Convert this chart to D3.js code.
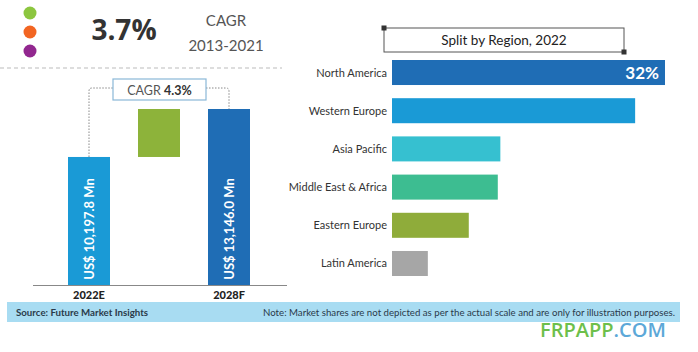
<!DOCTYPE html>
<html><head><meta charset="utf-8">
<script src="https://cdn.jsdelivr.net/npm/d3@7"></script>
<style>body{margin:0;background:#fff;}svg{display:block;}</style>
</head><body>
<svg id="c" width="698" height="352"></svg>
<script>
// ---- data ----
const years = ["2022E", "2028F"];
const marketValues = [10197.8, 13146.0];
const valueLabels = ["US$ 10,197.8 Mn", "US$ 13,146.0 Mn"];
const cagrForecast = "4.3%";
const cagrHistoric = "3.7%";
const cagrHistoricPeriod = "2013-2021";
const regions = ["North America", "Western Europe", "Asia Pacific", "Middle East & Africa", "Eastern Europe", "Latin America"];
const regionShares = [32, 28.5, 12.7, 12.4, 9, 4.2];
const regionColors = ["#1f6db5", "#1a9ad6", "#36c0d0", "#3dbd91", "#8fac3a", "#a6a6a6"];
const dotColors = ["#8cc63f", "#f26522", "#92278f"];

const svg = d3.select("#c");
const F = "Lato, 'Open Sans', sans-serif";

// ---- header ----
svg.selectAll("circle.dot").data(dotColors).join("circle")
  .attr("cx", 30).attr("cy", (d, i) => 13 + i * 19).attr("r", 6.5).attr("fill", d => d);
svg.append("text").attr("x", 124).attr("y", 40).attr("text-anchor", "middle")
  .attr("font-family", "'Open Sans', sans-serif").attr("font-weight", 700).attr("font-size", 28)
  .attr("fill", "#333").text(cagrHistoric);
svg.append("text").attr("x", 226).attr("y", 26).attr("text-anchor", "middle")
  .attr("font-family", F).attr("font-size", 15).attr("fill", "#555").text("CAGR");
svg.append("text").attr("x", 226).attr("y", 51).attr("text-anchor", "middle")
  .attr("font-family", F).attr("font-size", 15).attr("fill", "#555").text(cagrHistoricPeriod);
svg.append("line").attr("x1", 0).attr("x2", 282).attr("y1", 68).attr("y2", 68)
  .attr("stroke", "#bbb").attr("stroke-width", 1).attr("stroke-dasharray", "4,3");

// ---- left waterfall ----
const x = d3.scaleBand().domain(["2022E", "inc", "2028F"]).range([68, 250]).paddingInner(0.4).paddingOuter(0);
const y = d3.scaleLinear().domain([2330, 13146]).range([285, 109]);
const barColors = ["#1a9ad6", "#1f6db5"];

svg.selectAll("rect.mb").data(years).join("rect")
  .attr("x", d => x(d)).attr("width", x.bandwidth())
  .attr("y", (d, i) => y(marketValues[i])).attr("height", (d, i) => y.range()[0] - y(marketValues[i]))
  .attr("fill", (d, i) => barColors[i]);
svg.append("rect").attr("x", x("inc")).attr("width", x.bandwidth())
  .attr("y", y(marketValues[1])).attr("height", y(marketValues[0]) - y(marketValues[1]))
  .attr("fill", "#8db33a");

svg.selectAll("text.vl").data(years).join("text")
  .attr("transform", (d, i) => `translate(${x(d) + x.bandwidth() / 2 + 5},229) rotate(-90)`)
  .attr("text-anchor", "middle").attr("font-family", F).attr("font-weight", 700)
  .attr("font-size", 13).attr("fill", "#fff").text((d, i) => valueLabels[i]);

svg.append("line").attr("x1", 33).attr("x2", 287).attr("y1", 285.5).attr("y2", 285.5)
  .attr("stroke", "#888").attr("stroke-width", 1);
svg.selectAll("text.yl").data(years).join("text")
  .attr("x", d => x(d) + x.bandwidth() / 2).attr("y", 299).attr("text-anchor", "middle")
  .attr("font-family", F).attr("font-weight", 900).attr("font-size", 11).attr("fill", "#222").text(d => d);

// bracket
const cx0 = x("2022E") + x.bandwidth() / 2, cx1 = x("2028F") + x.bandwidth() / 2;
const bx0 = 113, bx1 = 206, by = 88;
svg.append("path").attr("d", `M${cx0},${y(marketValues[0])} V${by + 3} Q${cx0},${by} ${cx0 + 3},${by} H${bx0}`)
  .attr("fill", "none").attr("stroke", "#888").attr("stroke-dasharray", "1.5,1.5");
svg.append("path").attr("d", `M${bx1},${by} H${cx1 - 3} Q${cx1},${by} ${cx1},${by + 3} V${y(marketValues[1])}`)
  .attr("fill", "none").attr("stroke", "#888").attr("stroke-dasharray", "1.5,1.5");
svg.append("rect").attr("x", bx0).attr("y", 79).attr("width", bx1 - bx0).attr("height", 21)
  .attr("fill", "#fff").attr("stroke", "#8ab8d8").attr("stroke-width", 1.2);
const ct = svg.append("text").attr("x", (bx0 + bx1) / 2).attr("y", 94.5).attr("text-anchor", "middle")
  .attr("font-family", F).attr("font-size", 12.5).attr("fill", "#555");
ct.append("tspan").text("CAGR ");
ct.append("tspan").attr("font-weight", 700).attr("fill", "#333").text(cagrForecast);

// ---- right region bars ----
svg.append("rect").attr("x", 384).attr("y", 28).attr("width", 240).attr("height", 24)
  .attr("fill", "#fff").attr("stroke", "#555").attr("stroke-width", 1);
svg.append("rect").attr("x", 381.5).attr("y", 25.5).attr("width", 5).attr("height", 5).attr("fill", "#333");
svg.append("rect").attr("x", 621.5).attr("y", 49.5).attr("width", 5).attr("height", 5).attr("fill", "#333");
svg.append("text").attr("x", 504).attr("y", 45).attr("text-anchor", "middle")
  .attr("font-family", F).attr("font-size", 13.5).attr("fill", "#222").text("Split by Region, 2022");

const ry = d3.scaleBand().domain(regions).range([60, 276]).paddingInner(0.345).paddingOuter(0);
const rx = d3.scaleLinear().domain([0, 32]).range([392, 665]);
svg.selectAll("rect.rb").data(regions).join("rect")
  .attr("x", rx(0)).attr("y", d => ry(d)).attr("height", ry.bandwidth())
  .attr("width", (d, i) => rx(regionShares[i]) - rx(0)).attr("fill", (d, i) => regionColors[i]);
svg.selectAll("text.rl").data(regions).join("text")
  .attr("x", 387).attr("y", d => ry(d) + ry.bandwidth() / 2 + 4).attr("text-anchor", "end")
  .attr("font-family", F).attr("font-size", 11).attr("fill", "#333").text(d => d);
svg.append("text").attr("x", rx(regionShares[0]) - 6).attr("y", ry(regions[0]) + ry.bandwidth() / 2 + 6)
  .attr("text-anchor", "end").attr("font-family", F).attr("font-weight", 700).attr("font-size", 17)
  .attr("fill", "#fff").text(regionShares[0] + "%");

// ---- footer ----
svg.append("rect").attr("x", 7).attr("y", 302).attr("width", 673).attr("height", 20).attr("fill", "#a8dcf2");
svg.append("text").attr("x", 16).attr("y", 315.5).attr("font-family", F).attr("font-weight", 700)
  .attr("font-size", 9.7).attr("fill", "#2a3a4a").text("Source: Future Market Insights");
svg.append("text").attr("x", 675).attr("y", 315.5).attr("text-anchor", "end").attr("font-family", F)
  .attr("font-size", 9.7).attr("fill", "#2a3a4a").attr("textLength", 412).attr("lengthAdjust", "spacingAndGlyphs")
  .text("Note: Market shares are not depicted as per the actual scale and are only for illustration purposes.");
const wm = svg.append("text").attr("x", 540).attr("y", 337).attr("font-family", "'Open Sans', sans-serif")
  .attr("font-size", 20).attr("font-weight", 600);
wm.append("tspan").attr("fill", "#6dbf4b").text("FRPAPP");
wm.append("tspan").attr("fill", "#5ca8d8").text(".COM");
</script>
</body></html>
